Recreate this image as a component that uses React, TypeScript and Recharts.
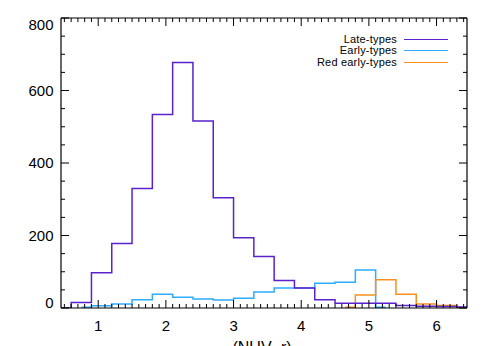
import { LineChart, Line, XAxis, YAxis, Legend } from 'recharts'

// histogram bin centres, step drawn half-way between them (like psym=10)
const binCenters = [0.45, 0.75, 1.05, 1.35, 1.65, 1.95, 2.25, 2.55, 2.85, 3.15, 3.45, 3.75, 4.05, 4.35, 4.65, 4.95, 5.25, 5.55, 5.85, 6.15, 6.45]
const lateTypes = [0, 15, 97, 178, 330, 534, 677, 516, 304, 194, 142, 76, 55, 23, 13, 13, 13, 7, 5, 4, 3]
const earlyTypes = [null, 2, 6, 11, 23, 38, 30, 25, 22, 27, 44, 55, 55, 68, 71, 105, 2, null, null, null, null]
const redEarlyTypes = [null, null, null, null, null, null, null, null, null, null, null, null, null, null, 2, 36, 78, 38, 11, 7, 2]

const xMajorTicks = [1, 2, 3, 4, 5, 6]
const yMajorTicks = [0, 200, 400, 600, 800]
const xMinorTicks = Array.from({ length: 60 }, (_, i) => Math.round((0.5 + i * 0.1) * 10) / 10)
const yMinorTicks = Array.from({ length: 17 }, (_, i) => i * 50)

const PURPLE = '#5a22cc'
const BLUE = '#2eacff'
const ORANGE = '#f7911e'
const FONT = '"Liberation Sans", Arial, sans-serif'

const legendItems = [
  { label: 'Late-types', color: PURPLE },
  { label: 'Early-types', color: BLUE },
  { label: 'Red early-types', color: ORANGE },
]

const data = binCenters.map((x, i) => ({ x, late: lateTypes[i], early: earlyTypes[i], red: redEarlyTypes[i] }))

const isMajor = (v: number, majors: number[]) => majors.some((m) => Math.abs(m - v) < 1e-6)

function BottomTick({ x, y, payload }: any) {
  const major = isMajor(payload.value, xMajorTicks)
  return (
    <g>
      <line x1={x} x2={x} y1={y} y2={y - (major ? 8 : 4)} stroke="#000" strokeWidth={1} />
      {major && (
        <text x={x} y={y + 22.5} textAnchor="middle" fontSize={15} fontFamily={FONT} fill="#000">
          {payload.value}
        </text>
      )}
    </g>
  )
}

function TopTick({ x, y, payload }: any) {
  const major = isMajor(payload.value, xMajorTicks)
  return <line x1={x} x2={x} y1={y} y2={y + (major ? 8 : 4)} stroke="#000" strokeWidth={1} />
}

function LeftTick({ x, y, payload }: any) {
  const major = isMajor(payload.value, yMajorTicks)
  const v = payload.value
  const dy = v === 800 ? 11.5 : v === 0 ? 0 : 5.4
  return (
    <g>
      <line x1={x} x2={x + (major ? 8 : 4)} y1={y} y2={y} stroke="#000" strokeWidth={1} />
      {major && (
        <text x={x - 7.5} y={y + dy} textAnchor="end" fontSize={15} fontFamily={FONT} fill="#000">
          {v}
        </text>
      )}
    </g>
  )
}

function RightTick({ x, y, payload }: any) {
  const major = isMajor(payload.value, yMajorTicks)
  return <line x1={x} x2={x - (major ? 8 : 4)} y1={y} y2={y} stroke="#000" strokeWidth={1} />
}

function LegendContent() {
  return (
    <div style={{ fontFamily: FONT, fontSize: 11, color: '#000' }}>
      {legendItems.map((it) => (
        <div key={it.label} style={{ display: 'flex', alignItems: 'center', height: 11.5 }}>
          <span style={{ width: 120, textAlign: 'right', lineHeight: '11.5px', whiteSpace: 'nowrap', letterSpacing: 0.2 }}>{it.label}</span>
          <span style={{ width: 44, height: 0, borderTop: `1.5px solid ${it.color}`, marginLeft: 7 }} />
        </div>
      ))}
    </div>
  )
}

export default function App() {
  const axisLine = { stroke: '#000', strokeWidth: 1.2 }
  return (
    <LineChart width={477} height={338} data={data} margin={{ top: 9, right: 17, bottom: 0, left: 0 }}>
      <XAxis
        type="number"
        dataKey="x"
        domain={[0.45, 6.45]}
        allowDataOverflow
        ticks={xMinorTicks}
        interval={0}
        tickSize={0}
        tickMargin={0}
        tickLine={false}
        tick={BottomTick}
        axisLine={axisLine}
        height={38}
        label={{
          content: ({ viewBox }: any) => (
            <text
              x={viewBox.x + viewBox.width / 2 - 2}
              y={viewBox.y + 44.5}
              textAnchor="middle"
              fontSize={16}
              fontFamily={FONT}
              fill="#000"
            >
              (NUV−r)
            </text>
          ),
        }}
      />
      <XAxis
        xAxisId="top"
        orientation="top"
        type="number"
        dataKey="x"
        domain={[0.45, 6.45]}
        allowDataOverflow
        ticks={xMinorTicks}
        interval={0}
        tickSize={0}
        tickMargin={0}
        tickLine={false}
        tick={TopTick}
        axisLine={axisLine}
        height={1}
      />
      <YAxis
        type="number"
        domain={[0, 800]}
        allowDataOverflow
        ticks={yMinorTicks}
        interval={0}
        tickSize={0}
        tickMargin={0}
        tickLine={false}
        tick={LeftTick}
        axisLine={axisLine}
        width={53}
      />
      <YAxis
        yAxisId="right"
        orientation="right"
        type="number"
        domain={[0, 800]}
        allowDataOverflow
        ticks={yMinorTicks}
        interval={0}
        tickSize={0}
        tickMargin={0}
        tickLine={false}
        tick={RightTick}
        axisLine={axisLine}
        width={1}
      />
      <Legend
        content={LegendContent}
        layout="vertical"
        align="center"
        verticalAlign="middle"
        wrapperStyle={{ top: 25.5, left: 269, width: 180 }}
      />
      <Line type="step" dataKey="early" name="Early-types" stroke={BLUE} strokeWidth={1.5} dot={false} isAnimationActive={false} />
      <Line type="step" dataKey="red" name="Red early-types" stroke={ORANGE} strokeWidth={1.5} dot={false} isAnimationActive={false} />
      <Line type="step" dataKey="late" name="Late-types" stroke={PURPLE} strokeWidth={1.5} dot={false} isAnimationActive={false} />
    </LineChart>
  )
}
